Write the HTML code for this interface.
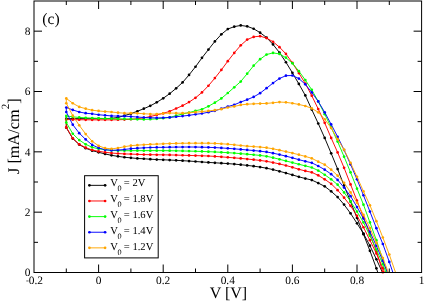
<!DOCTYPE html>
<html><head><meta charset="utf-8"><title>J-V curves</title>
<style>
html,body{margin:0;padding:0;background:#fff;}
body{width:425px;height:302px;overflow:hidden;position:relative;font-family:"Liberation Serif",serif;}
</style></head>
<body>
<svg width="425" height="302" viewBox="0 0 425 302" style="position:absolute;left:0;top:0;font-family:'Liberation Serif',serif;text-rendering:geometricPrecision;will-change:transform;opacity:0.999" fill="#000">
<defs><clipPath id="cp"><rect x="34.0" y="1.0" width="387.60" height="271.50"/></clipPath></defs>
<g clip-path="url(#cp)"><polyline fill="none" stroke="#000000" stroke-width="0.95" stroke-linejoin="round" points="382.84,287.58 376.38,268.28 369.92,250.78 363.46,234.19 357.00,217.90 350.54,201.61 344.08,185.62 337.62,169.03 331.16,153.34 324.70,137.96 318.24,123.48 311.78,109.60 305.32,95.42 298.86,83.96 292.40,72.80 285.94,62.24 279.48,52.59 273.02,44.44 266.56,37.50 260.10,32.67 253.64,28.75 247.18,26.34 240.72,25.44 234.26,26.64 227.80,29.05 221.34,34.33 214.88,41.42 208.42,49.57 201.96,57.86 195.50,66.76 189.04,74.91 182.58,82.45 176.12,88.33 169.66,93.70 163.20,98.29 156.74,102.36 150.28,105.83 143.82,108.70 137.36,111.26 130.90,113.67 124.44,115.63 117.98,117.44 111.52,118.35 105.06,118.65 98.60,118.65 92.14,118.65 85.68,118.65 79.22,118.65 72.76,118.65 66.30,118.65 66.30,127.70 72.76,138.56 79.22,144.59 85.68,148.21 92.14,150.63 98.60,152.29 105.06,153.94 111.52,155.30 117.98,156.36 124.44,157.26 130.90,157.87 137.36,158.47 143.82,158.77 150.28,159.19 156.74,159.56 163.20,159.80 169.66,160.04 176.12,160.34 182.58,160.69 189.04,161.06 195.50,161.50 201.96,161.98 208.42,162.43 214.88,162.81 221.34,163.17 227.80,163.60 234.26,164.11 240.72,164.70 247.18,165.38 253.64,166.16 260.10,167.08 266.56,168.18 273.02,169.62 279.48,171.30 285.94,173.04 292.40,174.90 298.86,176.84 305.32,178.53 311.78,180.04 318.24,183.06 324.70,186.37 331.16,191.35 337.62,197.08 344.08,204.62 350.54,213.37 357.00,223.33 363.46,233.59 369.92,245.65 376.38,259.23 382.84,273.40 389.30,287.58"/></g><g fill="#000000"><circle cx="376.38" cy="268.28" r="1.35"/><circle cx="369.92" cy="250.78" r="1.35"/><circle cx="363.46" cy="234.19" r="1.35"/><circle cx="357.00" cy="217.90" r="1.35"/><circle cx="350.54" cy="201.61" r="1.35"/><circle cx="344.08" cy="185.62" r="1.35"/><circle cx="337.62" cy="169.03" r="1.35"/><circle cx="331.16" cy="153.34" r="1.35"/><circle cx="324.70" cy="137.96" r="1.35"/><circle cx="318.24" cy="123.48" r="1.35"/><circle cx="311.78" cy="109.60" r="1.35"/><circle cx="305.32" cy="95.42" r="1.35"/><circle cx="298.86" cy="83.96" r="1.35"/><circle cx="292.40" cy="72.80" r="1.35"/><circle cx="285.94" cy="62.24" r="1.35"/><circle cx="279.48" cy="52.59" r="1.35"/><circle cx="273.02" cy="44.44" r="1.35"/><circle cx="266.56" cy="37.50" r="1.35"/><circle cx="260.10" cy="32.67" r="1.35"/><circle cx="253.64" cy="28.75" r="1.35"/><circle cx="247.18" cy="26.34" r="1.35"/><circle cx="240.72" cy="25.44" r="1.35"/><circle cx="234.26" cy="26.64" r="1.35"/><circle cx="227.80" cy="29.05" r="1.35"/><circle cx="221.34" cy="34.33" r="1.35"/><circle cx="214.88" cy="41.42" r="1.35"/><circle cx="208.42" cy="49.57" r="1.35"/><circle cx="201.96" cy="57.86" r="1.35"/><circle cx="195.50" cy="66.76" r="1.35"/><circle cx="189.04" cy="74.91" r="1.35"/><circle cx="182.58" cy="82.45" r="1.35"/><circle cx="176.12" cy="88.33" r="1.35"/><circle cx="169.66" cy="93.70" r="1.35"/><circle cx="163.20" cy="98.29" r="1.35"/><circle cx="156.74" cy="102.36" r="1.35"/><circle cx="150.28" cy="105.83" r="1.35"/><circle cx="143.82" cy="108.70" r="1.35"/><circle cx="137.36" cy="111.26" r="1.35"/><circle cx="130.90" cy="113.67" r="1.35"/><circle cx="124.44" cy="115.63" r="1.35"/><circle cx="117.98" cy="117.44" r="1.35"/><circle cx="111.52" cy="118.35" r="1.35"/><circle cx="105.06" cy="118.65" r="1.35"/><circle cx="98.60" cy="118.65" r="1.35"/><circle cx="92.14" cy="118.65" r="1.35"/><circle cx="85.68" cy="118.65" r="1.35"/><circle cx="79.22" cy="118.65" r="1.35"/><circle cx="72.76" cy="118.65" r="1.35"/><circle cx="66.30" cy="118.65" r="1.35"/><circle cx="66.30" cy="127.70" r="1.35"/><circle cx="72.76" cy="138.56" r="1.35"/><circle cx="79.22" cy="144.59" r="1.35"/><circle cx="85.68" cy="148.21" r="1.35"/><circle cx="92.14" cy="150.63" r="1.35"/><circle cx="98.60" cy="152.29" r="1.35"/><circle cx="105.06" cy="153.94" r="1.35"/><circle cx="111.52" cy="155.30" r="1.35"/><circle cx="117.98" cy="156.36" r="1.35"/><circle cx="124.44" cy="157.26" r="1.35"/><circle cx="130.90" cy="157.87" r="1.35"/><circle cx="137.36" cy="158.47" r="1.35"/><circle cx="143.82" cy="158.77" r="1.35"/><circle cx="150.28" cy="159.19" r="1.35"/><circle cx="156.74" cy="159.56" r="1.35"/><circle cx="163.20" cy="159.80" r="1.35"/><circle cx="169.66" cy="160.04" r="1.35"/><circle cx="176.12" cy="160.34" r="1.35"/><circle cx="182.58" cy="160.69" r="1.35"/><circle cx="189.04" cy="161.06" r="1.35"/><circle cx="195.50" cy="161.50" r="1.35"/><circle cx="201.96" cy="161.98" r="1.35"/><circle cx="208.42" cy="162.43" r="1.35"/><circle cx="214.88" cy="162.81" r="1.35"/><circle cx="221.34" cy="163.17" r="1.35"/><circle cx="227.80" cy="163.60" r="1.35"/><circle cx="234.26" cy="164.11" r="1.35"/><circle cx="240.72" cy="164.70" r="1.35"/><circle cx="247.18" cy="165.38" r="1.35"/><circle cx="253.64" cy="166.16" r="1.35"/><circle cx="260.10" cy="167.08" r="1.35"/><circle cx="266.56" cy="168.18" r="1.35"/><circle cx="273.02" cy="169.62" r="1.35"/><circle cx="279.48" cy="171.30" r="1.35"/><circle cx="285.94" cy="173.04" r="1.35"/><circle cx="292.40" cy="174.90" r="1.35"/><circle cx="298.86" cy="176.84" r="1.35"/><circle cx="305.32" cy="178.53" r="1.35"/><circle cx="311.78" cy="180.04" r="1.35"/><circle cx="318.24" cy="183.06" r="1.35"/><circle cx="324.70" cy="186.37" r="1.35"/><circle cx="331.16" cy="191.35" r="1.35"/><circle cx="337.62" cy="197.08" r="1.35"/><circle cx="344.08" cy="204.62" r="1.35"/><circle cx="350.54" cy="213.37" r="1.35"/><circle cx="357.00" cy="223.33" r="1.35"/><circle cx="363.46" cy="233.59" r="1.35"/><circle cx="369.92" cy="245.65" r="1.35"/><circle cx="376.38" cy="259.23" r="1.35"/></g>
<g clip-path="url(#cp)"><polyline fill="none" stroke="#ff0000" stroke-width="0.95" stroke-linejoin="round" points="389.30,290.60 382.84,272.20 376.38,251.38 369.92,234.19 363.46,217.30 357.00,200.70 350.54,184.41 344.08,167.82 337.62,152.44 331.16,137.96 324.70,122.87 318.24,109.00 311.78,95.72 305.32,83.51 298.86,73.10 292.40,62.84 285.94,53.94 279.48,47.16 273.02,41.73 266.56,38.11 260.10,36.14 253.64,36.90 247.18,39.61 240.72,45.34 234.26,52.89 227.80,61.18 221.34,69.93 214.88,78.08 208.42,85.77 201.96,92.41 195.50,97.84 189.04,102.12 182.58,105.68 176.12,108.51 169.66,111.35 163.20,113.37 156.74,114.88 150.28,116.54 143.82,117.90 137.36,118.73 130.90,119.25 124.44,119.54 117.98,119.75 111.52,119.85 105.06,119.86 98.60,119.86 92.14,119.84 85.68,119.80 79.22,119.74 72.76,119.65 66.30,119.55 66.30,127.40 72.76,138.26 79.22,144.29 85.68,147.61 92.14,150.02 98.60,151.29 105.06,152.29 111.52,153.04 117.98,153.52 124.44,153.92 130.90,154.10 137.36,154.35 143.82,154.57 150.28,154.70 156.74,154.78 163.20,154.85 169.66,154.94 176.12,155.08 182.58,155.27 189.04,155.45 195.50,155.62 201.96,155.79 208.42,156.02 214.88,156.39 221.34,156.87 227.80,157.36 234.26,157.87 240.72,158.42 247.18,159.03 253.64,159.69 260.10,160.43 266.56,161.34 273.02,162.53 279.48,163.94 285.94,165.49 292.40,167.32 298.86,169.31 305.32,170.96 311.78,172.35 318.24,175.36 324.70,179.29 331.16,183.81 337.62,190.14 344.08,197.69 350.54,205.83 357.00,215.79 363.46,227.25 369.92,240.22 376.38,253.50 382.84,268.13 389.30,284.57"/></g><g fill="#ff0000"><circle cx="382.84" cy="272.20" r="1.35"/><circle cx="376.38" cy="251.38" r="1.35"/><circle cx="369.92" cy="234.19" r="1.35"/><circle cx="363.46" cy="217.30" r="1.35"/><circle cx="357.00" cy="200.70" r="1.35"/><circle cx="350.54" cy="184.41" r="1.35"/><circle cx="344.08" cy="167.82" r="1.35"/><circle cx="337.62" cy="152.44" r="1.35"/><circle cx="331.16" cy="137.96" r="1.35"/><circle cx="324.70" cy="122.87" r="1.35"/><circle cx="318.24" cy="109.00" r="1.35"/><circle cx="311.78" cy="95.72" r="1.35"/><circle cx="305.32" cy="83.51" r="1.35"/><circle cx="298.86" cy="73.10" r="1.35"/><circle cx="292.40" cy="62.84" r="1.35"/><circle cx="285.94" cy="53.94" r="1.35"/><circle cx="279.48" cy="47.16" r="1.35"/><circle cx="273.02" cy="41.73" r="1.35"/><circle cx="266.56" cy="38.11" r="1.35"/><circle cx="260.10" cy="36.14" r="1.35"/><circle cx="253.64" cy="36.90" r="1.35"/><circle cx="247.18" cy="39.61" r="1.35"/><circle cx="240.72" cy="45.34" r="1.35"/><circle cx="234.26" cy="52.89" r="1.35"/><circle cx="227.80" cy="61.18" r="1.35"/><circle cx="221.34" cy="69.93" r="1.35"/><circle cx="214.88" cy="78.08" r="1.35"/><circle cx="208.42" cy="85.77" r="1.35"/><circle cx="201.96" cy="92.41" r="1.35"/><circle cx="195.50" cy="97.84" r="1.35"/><circle cx="189.04" cy="102.12" r="1.35"/><circle cx="182.58" cy="105.68" r="1.35"/><circle cx="176.12" cy="108.51" r="1.35"/><circle cx="169.66" cy="111.35" r="1.35"/><circle cx="163.20" cy="113.37" r="1.35"/><circle cx="156.74" cy="114.88" r="1.35"/><circle cx="150.28" cy="116.54" r="1.35"/><circle cx="143.82" cy="117.90" r="1.35"/><circle cx="137.36" cy="118.73" r="1.35"/><circle cx="130.90" cy="119.25" r="1.35"/><circle cx="124.44" cy="119.54" r="1.35"/><circle cx="117.98" cy="119.75" r="1.35"/><circle cx="111.52" cy="119.85" r="1.35"/><circle cx="105.06" cy="119.86" r="1.35"/><circle cx="98.60" cy="119.86" r="1.35"/><circle cx="92.14" cy="119.84" r="1.35"/><circle cx="85.68" cy="119.80" r="1.35"/><circle cx="79.22" cy="119.74" r="1.35"/><circle cx="72.76" cy="119.65" r="1.35"/><circle cx="66.30" cy="119.55" r="1.35"/><circle cx="66.30" cy="127.40" r="1.35"/><circle cx="72.76" cy="138.26" r="1.35"/><circle cx="79.22" cy="144.29" r="1.35"/><circle cx="85.68" cy="147.61" r="1.35"/><circle cx="92.14" cy="150.02" r="1.35"/><circle cx="98.60" cy="151.29" r="1.35"/><circle cx="105.06" cy="152.29" r="1.35"/><circle cx="111.52" cy="153.04" r="1.35"/><circle cx="117.98" cy="153.52" r="1.35"/><circle cx="124.44" cy="153.92" r="1.35"/><circle cx="130.90" cy="154.10" r="1.35"/><circle cx="137.36" cy="154.35" r="1.35"/><circle cx="143.82" cy="154.57" r="1.35"/><circle cx="150.28" cy="154.70" r="1.35"/><circle cx="156.74" cy="154.78" r="1.35"/><circle cx="163.20" cy="154.85" r="1.35"/><circle cx="169.66" cy="154.94" r="1.35"/><circle cx="176.12" cy="155.08" r="1.35"/><circle cx="182.58" cy="155.27" r="1.35"/><circle cx="189.04" cy="155.45" r="1.35"/><circle cx="195.50" cy="155.62" r="1.35"/><circle cx="201.96" cy="155.79" r="1.35"/><circle cx="208.42" cy="156.02" r="1.35"/><circle cx="214.88" cy="156.39" r="1.35"/><circle cx="221.34" cy="156.87" r="1.35"/><circle cx="227.80" cy="157.36" r="1.35"/><circle cx="234.26" cy="157.87" r="1.35"/><circle cx="240.72" cy="158.42" r="1.35"/><circle cx="247.18" cy="159.03" r="1.35"/><circle cx="253.64" cy="159.69" r="1.35"/><circle cx="260.10" cy="160.43" r="1.35"/><circle cx="266.56" cy="161.34" r="1.35"/><circle cx="273.02" cy="162.53" r="1.35"/><circle cx="279.48" cy="163.94" r="1.35"/><circle cx="285.94" cy="165.49" r="1.35"/><circle cx="292.40" cy="167.32" r="1.35"/><circle cx="298.86" cy="169.31" r="1.35"/><circle cx="305.32" cy="170.96" r="1.35"/><circle cx="311.78" cy="172.35" r="1.35"/><circle cx="318.24" cy="175.36" r="1.35"/><circle cx="324.70" cy="179.29" r="1.35"/><circle cx="331.16" cy="183.81" r="1.35"/><circle cx="337.62" cy="190.14" r="1.35"/><circle cx="344.08" cy="197.69" r="1.35"/><circle cx="350.54" cy="205.83" r="1.35"/><circle cx="357.00" cy="215.79" r="1.35"/><circle cx="363.46" cy="227.25" r="1.35"/><circle cx="369.92" cy="240.22" r="1.35"/><circle cx="376.38" cy="253.50" r="1.35"/><circle cx="382.84" cy="268.13" r="1.35"/></g>
<g clip-path="url(#cp)"><polyline fill="none" stroke="#00ff00" stroke-width="0.95" stroke-linejoin="round" points="389.30,279.14 382.84,259.83 376.38,240.22 369.92,222.42 363.46,204.63 357.00,188.64 350.54,172.35 344.08,156.66 337.62,141.58 331.16,127.40 324.70,114.13 318.24,101.46 311.78,89.84 305.32,80.04 298.86,71.14 292.40,63.29 285.94,57.71 279.48,53.94 273.02,52.89 266.56,54.55 260.10,59.22 253.64,65.71 247.18,73.70 240.72,81.54 234.26,87.28 227.80,93.01 221.34,98.44 214.88,102.66 208.42,106.28 201.96,109.30 195.50,110.81 189.04,112.62 182.58,113.97 176.12,115.63 169.66,117.44 163.20,118.20 156.74,118.80 150.28,119.19 143.82,119.40 137.36,119.29 130.90,119.07 124.44,118.93 117.98,118.81 111.52,118.68 105.06,118.53 98.60,118.35 92.14,118.11 85.68,117.82 79.22,117.44 72.76,116.84 66.30,115.94 66.30,122.57 72.76,133.73 79.22,140.07 85.68,144.29 92.14,147.31 98.60,148.82 105.06,149.72 111.52,150.39 117.98,150.63 124.44,150.72 130.90,150.69 137.36,150.65 143.82,150.63 150.28,150.63 156.74,150.63 163.20,150.63 169.66,150.72 176.12,150.83 182.58,150.96 189.04,151.11 195.50,151.27 201.96,151.46 208.42,151.68 214.88,151.95 221.34,152.29 227.80,152.67 234.26,153.12 240.72,153.63 247.18,154.19 253.64,154.77 260.10,155.43 266.56,156.31 273.02,157.65 279.48,159.30 285.94,160.96 292.40,162.59 298.86,164.25 305.32,165.87 311.78,167.52 318.24,170.54 324.70,174.76 331.16,179.29 337.62,184.71 344.08,192.41 350.54,201.31 357.00,211.56 363.46,222.42 369.92,235.70 376.38,249.57 382.84,264.20 389.30,281.55"/></g><g fill="#00ff00"><circle cx="382.84" cy="259.83" r="1.35"/><circle cx="376.38" cy="240.22" r="1.35"/><circle cx="369.92" cy="222.42" r="1.35"/><circle cx="363.46" cy="204.63" r="1.35"/><circle cx="357.00" cy="188.64" r="1.35"/><circle cx="350.54" cy="172.35" r="1.35"/><circle cx="344.08" cy="156.66" r="1.35"/><circle cx="337.62" cy="141.58" r="1.35"/><circle cx="331.16" cy="127.40" r="1.35"/><circle cx="324.70" cy="114.13" r="1.35"/><circle cx="318.24" cy="101.46" r="1.35"/><circle cx="311.78" cy="89.84" r="1.35"/><circle cx="305.32" cy="80.04" r="1.35"/><circle cx="298.86" cy="71.14" r="1.35"/><circle cx="292.40" cy="63.29" r="1.35"/><circle cx="285.94" cy="57.71" r="1.35"/><circle cx="279.48" cy="53.94" r="1.35"/><circle cx="273.02" cy="52.89" r="1.35"/><circle cx="266.56" cy="54.55" r="1.35"/><circle cx="260.10" cy="59.22" r="1.35"/><circle cx="253.64" cy="65.71" r="1.35"/><circle cx="247.18" cy="73.70" r="1.35"/><circle cx="240.72" cy="81.54" r="1.35"/><circle cx="234.26" cy="87.28" r="1.35"/><circle cx="227.80" cy="93.01" r="1.35"/><circle cx="221.34" cy="98.44" r="1.35"/><circle cx="214.88" cy="102.66" r="1.35"/><circle cx="208.42" cy="106.28" r="1.35"/><circle cx="201.96" cy="109.30" r="1.35"/><circle cx="195.50" cy="110.81" r="1.35"/><circle cx="189.04" cy="112.62" r="1.35"/><circle cx="182.58" cy="113.97" r="1.35"/><circle cx="176.12" cy="115.63" r="1.35"/><circle cx="169.66" cy="117.44" r="1.35"/><circle cx="163.20" cy="118.20" r="1.35"/><circle cx="156.74" cy="118.80" r="1.35"/><circle cx="150.28" cy="119.19" r="1.35"/><circle cx="143.82" cy="119.40" r="1.35"/><circle cx="137.36" cy="119.29" r="1.35"/><circle cx="130.90" cy="119.07" r="1.35"/><circle cx="124.44" cy="118.93" r="1.35"/><circle cx="117.98" cy="118.81" r="1.35"/><circle cx="111.52" cy="118.68" r="1.35"/><circle cx="105.06" cy="118.53" r="1.35"/><circle cx="98.60" cy="118.35" r="1.35"/><circle cx="92.14" cy="118.11" r="1.35"/><circle cx="85.68" cy="117.82" r="1.35"/><circle cx="79.22" cy="117.44" r="1.35"/><circle cx="72.76" cy="116.84" r="1.35"/><circle cx="66.30" cy="115.94" r="1.35"/><circle cx="66.30" cy="122.57" r="1.35"/><circle cx="72.76" cy="133.73" r="1.35"/><circle cx="79.22" cy="140.07" r="1.35"/><circle cx="85.68" cy="144.29" r="1.35"/><circle cx="92.14" cy="147.31" r="1.35"/><circle cx="98.60" cy="148.82" r="1.35"/><circle cx="105.06" cy="149.72" r="1.35"/><circle cx="111.52" cy="150.39" r="1.35"/><circle cx="117.98" cy="150.63" r="1.35"/><circle cx="124.44" cy="150.72" r="1.35"/><circle cx="130.90" cy="150.69" r="1.35"/><circle cx="137.36" cy="150.65" r="1.35"/><circle cx="143.82" cy="150.63" r="1.35"/><circle cx="150.28" cy="150.63" r="1.35"/><circle cx="156.74" cy="150.63" r="1.35"/><circle cx="163.20" cy="150.63" r="1.35"/><circle cx="169.66" cy="150.72" r="1.35"/><circle cx="176.12" cy="150.83" r="1.35"/><circle cx="182.58" cy="150.96" r="1.35"/><circle cx="189.04" cy="151.11" r="1.35"/><circle cx="195.50" cy="151.27" r="1.35"/><circle cx="201.96" cy="151.46" r="1.35"/><circle cx="208.42" cy="151.68" r="1.35"/><circle cx="214.88" cy="151.95" r="1.35"/><circle cx="221.34" cy="152.29" r="1.35"/><circle cx="227.80" cy="152.67" r="1.35"/><circle cx="234.26" cy="153.12" r="1.35"/><circle cx="240.72" cy="153.63" r="1.35"/><circle cx="247.18" cy="154.19" r="1.35"/><circle cx="253.64" cy="154.77" r="1.35"/><circle cx="260.10" cy="155.43" r="1.35"/><circle cx="266.56" cy="156.31" r="1.35"/><circle cx="273.02" cy="157.65" r="1.35"/><circle cx="279.48" cy="159.30" r="1.35"/><circle cx="285.94" cy="160.96" r="1.35"/><circle cx="292.40" cy="162.59" r="1.35"/><circle cx="298.86" cy="164.25" r="1.35"/><circle cx="305.32" cy="165.87" r="1.35"/><circle cx="311.78" cy="167.52" r="1.35"/><circle cx="318.24" cy="170.54" r="1.35"/><circle cx="324.70" cy="174.76" r="1.35"/><circle cx="331.16" cy="179.29" r="1.35"/><circle cx="337.62" cy="184.71" r="1.35"/><circle cx="344.08" cy="192.41" r="1.35"/><circle cx="350.54" cy="201.31" r="1.35"/><circle cx="357.00" cy="211.56" r="1.35"/><circle cx="363.46" cy="222.42" r="1.35"/><circle cx="369.92" cy="235.70" r="1.35"/><circle cx="376.38" cy="249.57" r="1.35"/><circle cx="382.84" cy="264.20" r="1.35"/></g>
<g clip-path="url(#cp)"><polyline fill="none" stroke="#0000ff" stroke-width="0.95" stroke-linejoin="round" points="395.76,280.95 389.30,261.94 382.84,243.99 376.38,228.16 369.92,211.56 363.46,195.27 357.00,179.29 350.54,164.35 344.08,150.02 337.62,136.75 331.16,124.38 324.70,112.32 318.24,101.46 311.78,92.41 305.32,84.35 298.86,78.53 292.40,75.51 285.94,75.66 279.48,78.53 273.02,83.05 266.56,88.18 260.10,93.16 253.64,96.93 247.18,99.64 240.72,102.06 234.26,104.77 227.80,106.58 221.34,108.70 214.88,110.81 208.42,112.16 201.96,113.52 195.50,114.34 189.04,115.33 182.58,116.06 176.12,116.75 169.66,117.44 163.20,117.75 156.74,117.90 150.28,117.77 143.82,117.49 137.36,117.05 130.90,116.54 124.44,116.22 117.98,116.09 111.52,115.94 105.06,115.33 98.60,114.73 92.14,113.82 85.68,113.22 79.22,112.01 72.76,109.90 66.30,107.49 66.30,112.01 72.76,124.68 79.22,133.13 85.68,139.47 92.14,144.89 98.60,147.91 105.06,149.72 111.52,150.32 117.98,150.05 124.44,149.48 130.90,148.67 137.36,148.21 143.82,147.85 150.28,147.52 156.74,147.39 163.20,147.30 169.66,147.21 176.12,147.11 182.58,147.04 189.04,147.01 195.50,147.05 201.96,147.17 208.42,147.33 214.88,147.58 221.34,147.95 227.80,148.36 234.26,148.84 240.72,149.39 247.18,149.97 253.64,150.53 260.10,151.16 266.56,151.97 273.02,153.15 279.48,154.59 285.94,156.13 292.40,157.85 298.86,159.68 305.32,161.32 311.78,162.84 318.24,166.01 324.70,169.63 331.16,174.16 337.62,179.89 344.08,187.58 350.54,196.18 357.00,207.04 363.46,218.50 369.92,231.78 376.38,245.95 382.84,260.83 389.30,277.02"/></g><g fill="#0000ff"><circle cx="389.30" cy="261.94" r="1.35"/><circle cx="382.84" cy="243.99" r="1.35"/><circle cx="376.38" cy="228.16" r="1.35"/><circle cx="369.92" cy="211.56" r="1.35"/><circle cx="363.46" cy="195.27" r="1.35"/><circle cx="357.00" cy="179.29" r="1.35"/><circle cx="350.54" cy="164.35" r="1.35"/><circle cx="344.08" cy="150.02" r="1.35"/><circle cx="337.62" cy="136.75" r="1.35"/><circle cx="331.16" cy="124.38" r="1.35"/><circle cx="324.70" cy="112.32" r="1.35"/><circle cx="318.24" cy="101.46" r="1.35"/><circle cx="311.78" cy="92.41" r="1.35"/><circle cx="305.32" cy="84.35" r="1.35"/><circle cx="298.86" cy="78.53" r="1.35"/><circle cx="292.40" cy="75.51" r="1.35"/><circle cx="285.94" cy="75.66" r="1.35"/><circle cx="279.48" cy="78.53" r="1.35"/><circle cx="273.02" cy="83.05" r="1.35"/><circle cx="266.56" cy="88.18" r="1.35"/><circle cx="260.10" cy="93.16" r="1.35"/><circle cx="253.64" cy="96.93" r="1.35"/><circle cx="247.18" cy="99.64" r="1.35"/><circle cx="240.72" cy="102.06" r="1.35"/><circle cx="234.26" cy="104.77" r="1.35"/><circle cx="227.80" cy="106.58" r="1.35"/><circle cx="221.34" cy="108.70" r="1.35"/><circle cx="214.88" cy="110.81" r="1.35"/><circle cx="208.42" cy="112.16" r="1.35"/><circle cx="201.96" cy="113.52" r="1.35"/><circle cx="195.50" cy="114.34" r="1.35"/><circle cx="189.04" cy="115.33" r="1.35"/><circle cx="182.58" cy="116.06" r="1.35"/><circle cx="176.12" cy="116.75" r="1.35"/><circle cx="169.66" cy="117.44" r="1.35"/><circle cx="163.20" cy="117.75" r="1.35"/><circle cx="156.74" cy="117.90" r="1.35"/><circle cx="150.28" cy="117.77" r="1.35"/><circle cx="143.82" cy="117.49" r="1.35"/><circle cx="137.36" cy="117.05" r="1.35"/><circle cx="130.90" cy="116.54" r="1.35"/><circle cx="124.44" cy="116.22" r="1.35"/><circle cx="117.98" cy="116.09" r="1.35"/><circle cx="111.52" cy="115.94" r="1.35"/><circle cx="105.06" cy="115.33" r="1.35"/><circle cx="98.60" cy="114.73" r="1.35"/><circle cx="92.14" cy="113.82" r="1.35"/><circle cx="85.68" cy="113.22" r="1.35"/><circle cx="79.22" cy="112.01" r="1.35"/><circle cx="72.76" cy="109.90" r="1.35"/><circle cx="66.30" cy="107.49" r="1.35"/><circle cx="66.30" cy="112.01" r="1.35"/><circle cx="72.76" cy="124.68" r="1.35"/><circle cx="79.22" cy="133.13" r="1.35"/><circle cx="85.68" cy="139.47" r="1.35"/><circle cx="92.14" cy="144.89" r="1.35"/><circle cx="98.60" cy="147.91" r="1.35"/><circle cx="105.06" cy="149.72" r="1.35"/><circle cx="111.52" cy="150.32" r="1.35"/><circle cx="117.98" cy="150.05" r="1.35"/><circle cx="124.44" cy="149.48" r="1.35"/><circle cx="130.90" cy="148.67" r="1.35"/><circle cx="137.36" cy="148.21" r="1.35"/><circle cx="143.82" cy="147.85" r="1.35"/><circle cx="150.28" cy="147.52" r="1.35"/><circle cx="156.74" cy="147.39" r="1.35"/><circle cx="163.20" cy="147.30" r="1.35"/><circle cx="169.66" cy="147.21" r="1.35"/><circle cx="176.12" cy="147.11" r="1.35"/><circle cx="182.58" cy="147.04" r="1.35"/><circle cx="189.04" cy="147.01" r="1.35"/><circle cx="195.50" cy="147.05" r="1.35"/><circle cx="201.96" cy="147.17" r="1.35"/><circle cx="208.42" cy="147.33" r="1.35"/><circle cx="214.88" cy="147.58" r="1.35"/><circle cx="221.34" cy="147.95" r="1.35"/><circle cx="227.80" cy="148.36" r="1.35"/><circle cx="234.26" cy="148.84" r="1.35"/><circle cx="240.72" cy="149.39" r="1.35"/><circle cx="247.18" cy="149.97" r="1.35"/><circle cx="253.64" cy="150.53" r="1.35"/><circle cx="260.10" cy="151.16" r="1.35"/><circle cx="266.56" cy="151.97" r="1.35"/><circle cx="273.02" cy="153.15" r="1.35"/><circle cx="279.48" cy="154.59" r="1.35"/><circle cx="285.94" cy="156.13" r="1.35"/><circle cx="292.40" cy="157.85" r="1.35"/><circle cx="298.86" cy="159.68" r="1.35"/><circle cx="305.32" cy="161.32" r="1.35"/><circle cx="311.78" cy="162.84" r="1.35"/><circle cx="318.24" cy="166.01" r="1.35"/><circle cx="324.70" cy="169.63" r="1.35"/><circle cx="331.16" cy="174.16" r="1.35"/><circle cx="337.62" cy="179.89" r="1.35"/><circle cx="344.08" cy="187.58" r="1.35"/><circle cx="350.54" cy="196.18" r="1.35"/><circle cx="357.00" cy="207.04" r="1.35"/><circle cx="363.46" cy="218.50" r="1.35"/><circle cx="369.92" cy="231.78" r="1.35"/><circle cx="376.38" cy="245.95" r="1.35"/><circle cx="382.84" cy="260.83" r="1.35"/></g>
<g clip-path="url(#cp)"><polyline fill="none" stroke="#ffa500" stroke-width="0.95" stroke-linejoin="round" points="402.22,290.60 395.76,273.10 389.30,254.61 382.84,237.51 376.38,221.22 369.92,205.23 363.46,191.35 357.00,176.87 350.54,162.84 344.08,149.72 337.62,139.16 331.16,128.00 324.70,119.25 318.24,112.31 311.78,108.39 305.32,105.98 298.86,104.47 292.40,103.26 285.94,102.36 279.48,102.06 273.02,102.81 266.56,103.42 260.10,103.57 253.64,103.87 247.18,104.17 240.72,104.92 234.26,106.43 227.80,107.49 221.34,109.15 214.88,110.20 208.42,110.96 201.96,111.56 195.50,112.19 189.04,112.80 182.58,113.22 176.12,113.13 169.66,113.07 163.20,113.46 156.74,114.12 150.28,114.12 143.82,113.73 137.36,113.32 130.90,113.07 124.44,113.21 117.98,112.71 111.52,112.01 105.06,111.56 98.60,110.96 92.14,110.20 85.68,108.69 79.22,106.88 72.76,103.26 66.30,98.44 66.30,103.26 72.76,115.63 79.22,125.29 85.68,134.03 92.14,141.28 98.60,145.80 105.06,148.21 111.52,148.82 117.98,148.06 124.44,146.70 130.90,145.65 137.36,145.14 143.82,144.74 150.28,144.35 156.74,144.11 163.20,143.81 169.66,143.57 176.12,143.40 182.58,143.26 189.04,143.21 195.50,143.21 201.96,143.21 208.42,143.21 214.88,143.39 221.34,143.77 227.80,144.20 234.26,144.80 240.72,145.51 247.18,146.13 253.64,146.60 260.10,147.06 266.56,147.72 273.02,148.79 279.48,150.16 285.94,151.60 292.40,153.09 298.86,154.71 305.32,156.41 311.78,158.32 318.24,161.64 324.70,164.65 331.16,169.63 337.62,175.67 344.08,182.75 350.54,192.41 357.00,202.66 363.46,214.88 369.92,228.16 376.38,242.63 382.84,258.02 389.30,274.91"/></g><g fill="#ffa500"><circle cx="389.30" cy="254.61" r="1.35"/><circle cx="382.84" cy="237.51" r="1.35"/><circle cx="376.38" cy="221.22" r="1.35"/><circle cx="369.92" cy="205.23" r="1.35"/><circle cx="363.46" cy="191.35" r="1.35"/><circle cx="357.00" cy="176.87" r="1.35"/><circle cx="350.54" cy="162.84" r="1.35"/><circle cx="344.08" cy="149.72" r="1.35"/><circle cx="337.62" cy="139.16" r="1.35"/><circle cx="331.16" cy="128.00" r="1.35"/><circle cx="324.70" cy="119.25" r="1.35"/><circle cx="318.24" cy="112.31" r="1.35"/><circle cx="311.78" cy="108.39" r="1.35"/><circle cx="305.32" cy="105.98" r="1.35"/><circle cx="298.86" cy="104.47" r="1.35"/><circle cx="292.40" cy="103.26" r="1.35"/><circle cx="285.94" cy="102.36" r="1.35"/><circle cx="279.48" cy="102.06" r="1.35"/><circle cx="273.02" cy="102.81" r="1.35"/><circle cx="266.56" cy="103.42" r="1.35"/><circle cx="260.10" cy="103.57" r="1.35"/><circle cx="253.64" cy="103.87" r="1.35"/><circle cx="247.18" cy="104.17" r="1.35"/><circle cx="240.72" cy="104.92" r="1.35"/><circle cx="234.26" cy="106.43" r="1.35"/><circle cx="227.80" cy="107.49" r="1.35"/><circle cx="221.34" cy="109.15" r="1.35"/><circle cx="214.88" cy="110.20" r="1.35"/><circle cx="208.42" cy="110.96" r="1.35"/><circle cx="201.96" cy="111.56" r="1.35"/><circle cx="195.50" cy="112.19" r="1.35"/><circle cx="189.04" cy="112.80" r="1.35"/><circle cx="182.58" cy="113.22" r="1.35"/><circle cx="176.12" cy="113.13" r="1.35"/><circle cx="169.66" cy="113.07" r="1.35"/><circle cx="163.20" cy="113.46" r="1.35"/><circle cx="156.74" cy="114.12" r="1.35"/><circle cx="150.28" cy="114.12" r="1.35"/><circle cx="143.82" cy="113.73" r="1.35"/><circle cx="137.36" cy="113.32" r="1.35"/><circle cx="130.90" cy="113.07" r="1.35"/><circle cx="124.44" cy="113.21" r="1.35"/><circle cx="117.98" cy="112.71" r="1.35"/><circle cx="111.52" cy="112.01" r="1.35"/><circle cx="105.06" cy="111.56" r="1.35"/><circle cx="98.60" cy="110.96" r="1.35"/><circle cx="92.14" cy="110.20" r="1.35"/><circle cx="85.68" cy="108.69" r="1.35"/><circle cx="79.22" cy="106.88" r="1.35"/><circle cx="72.76" cy="103.26" r="1.35"/><circle cx="66.30" cy="98.44" r="1.35"/><circle cx="66.30" cy="103.26" r="1.35"/><circle cx="72.76" cy="115.63" r="1.35"/><circle cx="79.22" cy="125.29" r="1.35"/><circle cx="85.68" cy="134.03" r="1.35"/><circle cx="92.14" cy="141.28" r="1.35"/><circle cx="98.60" cy="145.80" r="1.35"/><circle cx="105.06" cy="148.21" r="1.35"/><circle cx="111.52" cy="148.82" r="1.35"/><circle cx="117.98" cy="148.06" r="1.35"/><circle cx="124.44" cy="146.70" r="1.35"/><circle cx="130.90" cy="145.65" r="1.35"/><circle cx="137.36" cy="145.14" r="1.35"/><circle cx="143.82" cy="144.74" r="1.35"/><circle cx="150.28" cy="144.35" r="1.35"/><circle cx="156.74" cy="144.11" r="1.35"/><circle cx="163.20" cy="143.81" r="1.35"/><circle cx="169.66" cy="143.57" r="1.35"/><circle cx="176.12" cy="143.40" r="1.35"/><circle cx="182.58" cy="143.26" r="1.35"/><circle cx="189.04" cy="143.21" r="1.35"/><circle cx="195.50" cy="143.21" r="1.35"/><circle cx="201.96" cy="143.21" r="1.35"/><circle cx="208.42" cy="143.21" r="1.35"/><circle cx="214.88" cy="143.39" r="1.35"/><circle cx="221.34" cy="143.77" r="1.35"/><circle cx="227.80" cy="144.20" r="1.35"/><circle cx="234.26" cy="144.80" r="1.35"/><circle cx="240.72" cy="145.51" r="1.35"/><circle cx="247.18" cy="146.13" r="1.35"/><circle cx="253.64" cy="146.60" r="1.35"/><circle cx="260.10" cy="147.06" r="1.35"/><circle cx="266.56" cy="147.72" r="1.35"/><circle cx="273.02" cy="148.79" r="1.35"/><circle cx="279.48" cy="150.16" r="1.35"/><circle cx="285.94" cy="151.60" r="1.35"/><circle cx="292.40" cy="153.09" r="1.35"/><circle cx="298.86" cy="154.71" r="1.35"/><circle cx="305.32" cy="156.41" r="1.35"/><circle cx="311.78" cy="158.32" r="1.35"/><circle cx="318.24" cy="161.64" r="1.35"/><circle cx="324.70" cy="164.65" r="1.35"/><circle cx="331.16" cy="169.63" r="1.35"/><circle cx="337.62" cy="175.67" r="1.35"/><circle cx="344.08" cy="182.75" r="1.35"/><circle cx="350.54" cy="192.41" r="1.35"/><circle cx="357.00" cy="202.66" r="1.35"/><circle cx="363.46" cy="214.88" r="1.35"/><circle cx="369.92" cy="228.16" r="1.35"/><circle cx="376.38" cy="242.63" r="1.35"/><circle cx="382.84" cy="258.02" r="1.35"/></g>
<rect x="34.0" y="1.0" width="387.60" height="271.50" fill="none" stroke="#000" stroke-width="1"/>
<path d="M66.30,272.5v-4M66.30,1.0v4M98.60,272.5v-8M98.60,1.0v8M130.90,272.5v-4M130.90,1.0v4M163.20,272.5v-8M163.20,1.0v8M195.50,272.5v-4M195.50,1.0v4M227.80,272.5v-8M227.80,1.0v8M260.10,272.5v-4M260.10,1.0v4M292.40,272.5v-8M292.40,1.0v8M324.70,272.5v-4M324.70,1.0v4M357.00,272.5v-8M357.00,1.0v8M389.30,272.5v-4M389.30,1.0v4M34.0,242.33h4M421.6,242.33h-4M34.0,212.17h8M421.6,212.17h-8M34.0,182.00h4M421.6,182.00h-4M34.0,151.83h8M421.6,151.83h-8M34.0,121.67h4M421.6,121.67h-4M34.0,91.50h8M421.6,91.50h-8M34.0,61.33h4M421.6,61.33h-4M34.0,31.17h8M421.6,31.17h-8" stroke="#000" stroke-width="1" fill="none"/>
<text x="34.50" y="283.5" text-anchor="middle" font-size="11.4"><tspan font-size="8.6" dy="-0.7">-</tspan><tspan dy="0.7">0.2</tspan></text>
<text x="98.60" y="283.5" text-anchor="middle" font-size="11.4">0</text>
<text x="163.20" y="283.5" text-anchor="middle" font-size="11.4">0.2</text>
<text x="227.80" y="283.5" text-anchor="middle" font-size="11.4">0.4</text>
<text x="292.40" y="283.5" text-anchor="middle" font-size="11.4">0.6</text>
<text x="357.00" y="283.5" text-anchor="middle" font-size="11.4">0.8</text>
<text x="421.60" y="283.5" text-anchor="middle" font-size="11.4">1</text>
<text x="30.4" y="276.40" text-anchor="end" font-size="11.4">0</text>
<text x="30.4" y="216.07" text-anchor="end" font-size="11.4">2</text>
<text x="30.4" y="155.73" text-anchor="end" font-size="11.4">4</text>
<text x="30.4" y="95.40" text-anchor="end" font-size="11.4">6</text>
<text x="30.4" y="35.07" text-anchor="end" font-size="11.4">8</text>
<rect x="84.6" y="175.7" width="73.6" height="82.2" fill="#fff" stroke="#000" stroke-width="1"/>
<path d="M89.4,185.35H105.1" stroke="#000000" stroke-width="0.95"/><circle cx="89.4" cy="185.35" r="1.35" fill="#000000"/><circle cx="105.1" cy="185.35" r="1.35" fill="#000000"/>
<text x="110.3" y="186.40" font-size="10.6">V<tspan font-size="8.2" dx="-0.4" dy="5.0">0</tspan><tspan dx="-0.5" dy="-5.0"> = 2V</tspan></text>
<path d="M89.4,200.98H105.1" stroke="#ff0000" stroke-width="0.95"/><circle cx="89.4" cy="200.98" r="1.35" fill="#ff0000"/><circle cx="105.1" cy="200.98" r="1.35" fill="#ff0000"/>
<text x="110.3" y="202.27" font-size="10.6">V<tspan font-size="8.2" dx="-0.4" dy="5.0">0</tspan><tspan dx="-0.5" dy="-5.0"> = 1.8V</tspan></text>
<path d="M89.4,216.61H105.1" stroke="#00ff00" stroke-width="0.95"/><circle cx="89.4" cy="216.61" r="1.35" fill="#00ff00"/><circle cx="105.1" cy="216.61" r="1.35" fill="#00ff00"/>
<text x="110.3" y="218.14" font-size="10.6">V<tspan font-size="8.2" dx="-0.4" dy="5.0">0</tspan><tspan dx="-0.5" dy="-5.0"> = 1.6V</tspan></text>
<path d="M89.4,232.24H105.1" stroke="#0000ff" stroke-width="0.95"/><circle cx="89.4" cy="232.24" r="1.35" fill="#0000ff"/><circle cx="105.1" cy="232.24" r="1.35" fill="#0000ff"/>
<text x="110.3" y="234.01" font-size="10.6">V<tspan font-size="8.2" dx="-0.4" dy="5.0">0</tspan><tspan dx="-0.5" dy="-5.0"> = 1.4V</tspan></text>
<path d="M89.4,247.87H105.1" stroke="#ffa500" stroke-width="0.95"/><circle cx="89.4" cy="247.87" r="1.35" fill="#ffa500"/><circle cx="105.1" cy="247.87" r="1.35" fill="#ffa500"/>
<text x="110.3" y="249.88" font-size="10.6">V<tspan font-size="8.2" dx="-0.4" dy="5.0">0</tspan><tspan dx="-0.5" dy="-5.0"> = 1.2V</tspan></text>
<text x="42.3" y="24.3" font-size="15.7">(c)</text>
<text x="228.4" y="297.8" text-anchor="middle" font-size="16">V [V]</text>
<text transform="translate(19.0,174) rotate(-90)" font-size="16.3">J [mA/cm<tspan font-size="11" dy="-9.7">2</tspan><tspan dy="9.7">]</tspan></text>
</svg>
</body></html>
